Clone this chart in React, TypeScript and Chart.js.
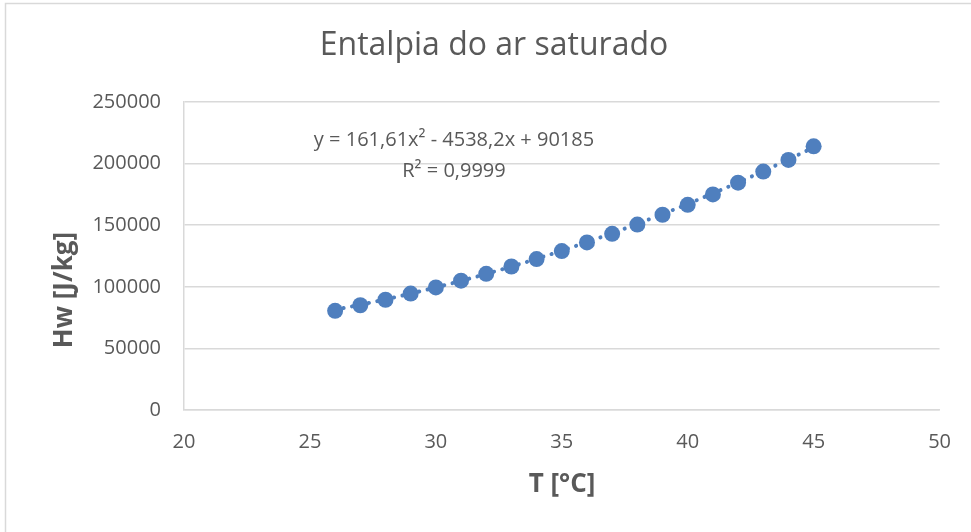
import React, { useEffect, useRef } from "react";
import { Chart, registerables } from "chart.js";

Chart.register(...registerables);

const TITLE = "Entalpia do ar saturado";
const X_TITLE = "T [°C]";
const Y_TITLE = "Hw [J/kg]";
const EQUATION_LINES = ["y = 161,61x² - 4538,2x + 90185", "R² = 0,9999"];

const T_CELSIUS = [26, 27, 28, 29, 30, 31, 32, 33, 34, 35, 36, 37, 38, 39, 40, 41, 42, 43, 44, 45];
const HW_J_KG = [
  80500, 85000, 89500, 94500, 99500, 105000, 110500, 116500, 122500, 129000,
  136000, 143000, 150500, 158500, 166500, 175000, 184500, 193500, 203000, 214000,
];
const TREND_COEFFS = [161.61, -4538.2, 90185];
const X_RANGE = [20, 50, 5];
const Y_RANGE = [0, 250000, 50000];

const BLUE = "#4F7FBE";
const TEXT = "#595959";
const GRID = "#d9d9d9";
const FONT = "'Open Sans', 'Noto Sans', sans-serif";

const decorPlugin = {
  id: "decor",
  beforeDraw(chart: any) {
    const { ctx, width, height } = chart;
    ctx.save();
    ctx.fillStyle = "#ffffff";
    ctx.fillRect(0, 0, width, height);
    ctx.strokeStyle = GRID;
    ctx.lineWidth = 1.5;
    ctx.strokeRect(5.5, 3.5, width + 20, height + 20);
    ctx.restore();
  },
  beforeDatasetsDraw(chart: any) {
    const { ctx, scales } = chart;
    const xs = scales.x;
    const ys = scales.y;
    const [a, b, c] = TREND_COEFFS;
    const x0 = T_CELSIUS[0];
    const x1 = T_CELSIUS[T_CELSIUS.length - 1];
    ctx.save();
    ctx.beginPath();
    const steps = 200;
    for (let i = 0; i <= steps; i++) {
      const x = x0 + ((x1 - x0) * i) / steps;
      const y = a * x * x + b * x + c;
      const px = xs.getPixelForValue(x);
      const py = ys.getPixelForValue(y);
      if (i === 0) ctx.moveTo(px, py);
      else ctx.lineTo(px, py);
    }
    ctx.strokeStyle = BLUE;
    ctx.lineWidth = 4;
    ctx.lineCap = "round";
    ctx.setLineDash([0.1, 8.5]);
    ctx.stroke();
    ctx.restore();
  },
  afterDraw(chart: any) {
    const { ctx } = chart;
    ctx.save();
    ctx.fillStyle = TEXT;
    ctx.textAlign = "center";
    ctx.textBaseline = "middle";
    ctx.font = `32px ${FONT}`;
    ctx.fillText(TITLE, 494, 46);
    ctx.font = `20px ${FONT}`;
    ctx.fillText(EQUATION_LINES[0], 454, 140);
    ctx.fillText(EQUATION_LINES[1], 454, 171);
    ctx.font = `bold 26px ${FONT}`;
    ctx.fillText(X_TITLE, 562, 485);
    ctx.translate(65, 290);
    ctx.rotate(-Math.PI / 2);
    ctx.fillText(Y_TITLE, 0, 0);
    ctx.restore();
  },
};

export default function App() {
  const ref = useRef<HTMLCanvasElement | null>(null);

  useEffect(() => {
    if (!ref.current) return;
    const chart = new Chart(ref.current, {
      type: "scatter",
      data: {
        datasets: [
          {
            label: "Hw",
            data: T_CELSIUS.map((t, i) => ({ x: t, y: HW_J_KG[i] })),
            backgroundColor: BLUE,
            borderColor: BLUE,
            borderWidth: 0,
            pointRadius: 8,
            pointHoverRadius: 8,
          },
        ],
      },
      options: {
        responsive: false,
        animation: false,
        layout: { padding: { top: 102, right: 30, left: 0, bottom: 0 } },
        plugins: {
          legend: { display: false },
          title: { display: false },
          tooltip: { enabled: false },
        },
        scales: {
          x: {
            type: "linear",
            min: X_RANGE[0],
            max: X_RANGE[1],
            ticks: {
              stepSize: X_RANGE[2],
              color: TEXT,
              font: { family: FONT, size: 20 },
              padding: 20,
              callback: (v: any) => String(v),
            },
            grid: { display: false, drawTicks: false },
            border: { display: true, color: GRID, width: 1.5 },
            afterFit: (s: any) => {
              s.height = 122;
            },
          },
          y: {
            type: "linear",
            min: Y_RANGE[0],
            max: Y_RANGE[1],
            ticks: {
              stepSize: Y_RANGE[2],
              color: TEXT,
              font: { family: FONT, size: 20 },
              padding: 23,
              callback: (v: any) => String(v),
            },
            grid: { color: GRID, lineWidth: 1.5, drawTicks: false },
            border: { display: true, color: GRID, width: 1.5 },
            afterFit: (s: any) => {
              s.width = 184;
            },
          },
        },
      },
      plugins: [decorPlugin],
    });
    return () => chart.destroy();
  }, []);

  return (
    <div style={{ position: "fixed", left: 0, top: 0, width: 971, height: 532, background: "#fff" }}>
      <canvas ref={ref} width={971} height={532} style={{ width: 971, height: 532, display: "block" }} />
    </div>
  );
}
